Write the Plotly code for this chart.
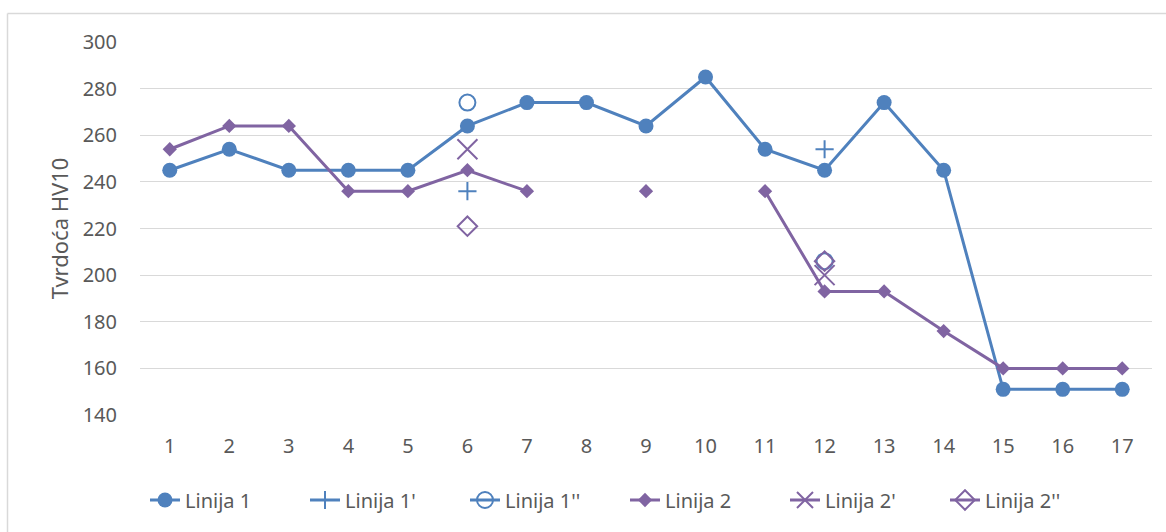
import plotly.graph_objects as go

# Measurement positions along the line
positions = list(range(1, 18))
tick_labels = [str(p) for p in positions]

# Hardness HV10 for each line (None = not measured)
linija_1 = [245, 254, 245, 245, 245, 264, 274, 274, 264, 285, 254, 245, 274, 245, 151, 151, 151]
linija_2 = [254, 264, 264, 236, 236, 245, 236, None, 236, None, 236, 193, 193, 176, 160, 160, 160]

# Repeat measurements taken only at positions 6 and 12
repeat_positions = [6, 12]
linija_1a = [236, 254]
linija_1b = [274, 206]
linija_2a = [254, 200]
linija_2b = [221, 206]

BLUE = "#4F81BD"
PURPLE = "#8064A2"
TEXT = "#595959"
FONT = "Noto Sans"


def sparse(values):
    """Spread the repeat values onto all positions, leaving gaps elsewhere."""
    lookup = dict(zip(repeat_positions, values))
    return [lookup.get(p) for p in positions]


fig = go.Figure()

fig.add_trace(go.Scatter(
    x=positions, y=linija_1, name="Linija 1", mode="lines+markers",
    line=dict(color=BLUE, width=3),
    marker=dict(symbol="circle", size=15, color=BLUE),
    connectgaps=False,
))
fig.add_trace(go.Scatter(
    x=positions, y=sparse(linija_1a), name="Linija 1'", mode="lines+markers",
    line=dict(color=BLUE, width=3),
    marker=dict(symbol="cross-thin", size=13, line=dict(color=BLUE, width=2)),
    connectgaps=False,
))
fig.add_trace(go.Scatter(
    x=positions, y=sparse(linija_1b), name="Linija 1''", mode="lines+markers",
    line=dict(color=BLUE, width=3),
    marker=dict(symbol="circle-open", size=16, color=BLUE, line=dict(color=BLUE, width=2)),
    connectgaps=False,
))
fig.add_trace(go.Scatter(
    x=positions, y=linija_2, name="Linija 2", mode="lines+markers",
    line=dict(color=PURPLE, width=3),
    marker=dict(symbol="diamond", size=11, color=PURPLE),
    connectgaps=False,
))
fig.add_trace(go.Scatter(
    x=positions, y=sparse(linija_2a), name="Linija 2'", mode="lines+markers",
    line=dict(color=PURPLE, width=3),
    marker=dict(symbol="x-thin", size=20, line=dict(color=PURPLE, width=2)),
    connectgaps=False,
))
fig.add_trace(go.Scatter(
    x=positions, y=sparse(linija_2b), name="Linija 2''", mode="lines+markers",
    line=dict(color=PURPLE, width=3),
    marker=dict(symbol="diamond-open", size=15, color=PURPLE, line=dict(color=PURPLE, width=2)),
    connectgaps=False,
))

# Plot area spans x 140..1152 px and y 42..415 px
L, R, T, B = 140, 14, 42, 117
W, H = 1166, 532
pw, ph = W - L - R, H - T - B


def px_x(x):
    return (x - L) / pw


def px_y(y):
    return (H - B - y) / ph


fig.update_layout(
    width=W, height=H,
    margin=dict(l=L, r=R, t=T, b=B, pad=0),
    paper_bgcolor="white", plot_bgcolor="white",
    font=dict(family=FONT, size=20, color=TEXT),
    showlegend=True,
    legend=dict(
        orientation="h", x=px_x(625), xanchor="center",
        y=px_y(500), yanchor="middle",
        font=dict(family=FONT, size=20, color=TEXT),
        itemclick=False, tracegroupgap=0,
        entrywidth=115, entrywidthmode="pixels",
    ),
    xaxis=dict(
        range=[0.5, 17.5], tickmode="array", tickvals=positions, ticktext=tick_labels,
        showgrid=False, zeroline=False, showline=False, ticks="",
        tickfont=dict(family=FONT, size=20, color=TEXT), ticklabelstandoff=17,
    ),
    yaxis=dict(
        range=[140, 300], tickmode="linear", tick0=140, dtick=20,
        showgrid=True, gridcolor="#D9D9D9", gridwidth=1,
        zeroline=False, showline=False, ticks="",
        tickfont=dict(family=FONT, size=20, color=TEXT), ticklabelstandoff=22,
        title=dict(text="Tvrdoća HV10", font=dict(family=FONT, size=22, color=TEXT), standoff=7),
    ),
    shapes=[
        dict(type="line", xref="paper", yref="paper",
             x0=px_x(7.5), x1=px_x(1200), y0=px_y(13.5), y1=px_y(13.5),
             line=dict(color="#D9D9D9", width=1.5)),
        dict(type="line", xref="paper", yref="paper",
             x0=px_x(7.5), x1=px_x(7.5), y0=px_y(13.5), y1=px_y(560),
             line=dict(color="#D9D9D9", width=1.5)),
    ],
)

fig.write_html("out.html")
